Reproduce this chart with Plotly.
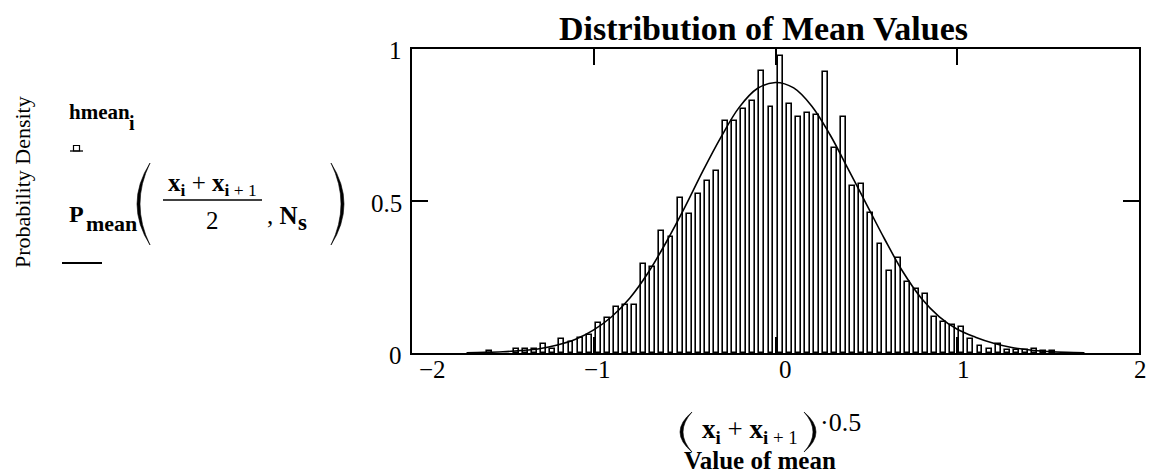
import plotly.graph_objects as go

# Histogram of sample means: bin centres and normalised heights
bin_centers = [-1.575, -1.425, -1.375, -1.325, -1.275, -1.225, -1.175, -1.125,
               -1.075, -1.025, -0.975, -0.925, -0.875, -0.825, -0.775, -0.725,
               -0.675, -0.625, -0.575, -0.525, -0.475, -0.425, -0.375, -0.325,
               -0.275, -0.225, -0.175, -0.125, -0.075, -0.025, 0.025, 0.075,
               0.125, 0.175, 0.225, 0.275, 0.325, 0.375, 0.425, 0.475,
               0.525, 0.575, 0.625, 0.675, 0.725, 0.775, 0.825, 0.875,
               0.925, 0.975, 1.025, 1.075, 1.125, 1.175, 1.225, 1.275,
               1.325, 1.375, 1.425, 1.475, 1.525]
hmean = [0.007, 0.012, 0.012, 0.012, 0.029, 0.012, 0.046, 0.037,
         0.048, 0.059, 0.100, 0.114, 0.152, 0.158, 0.158, 0.292,
         0.284, 0.402, 0.380, 0.509, 0.456, 0.522, 0.567, 0.600,
         0.764, 0.764, 0.803, 0.830, 0.929, 0.810, 0.977, 0.818,
         0.777, 0.790, 0.783, 0.923, 0.673, 0.777, 0.549, 0.555,
         0.462, 0.358, 0.271, 0.311, 0.232, 0.212, 0.193, 0.120,
         0.101, 0.093, 0.087, 0.047, 0.023, 0.014, 0.030, 0.010,
         0.010, 0.009, 0.012, 0.007, 0.007]

# Theoretical density of the mean
curve_x = [-1.7, -1.6, -1.5, -1.4, -1.3, -1.2, -1.1, -1.0, -0.9, -0.8, -0.7,
           -0.6, -0.5, -0.4, -0.3, -0.2, -0.1, 0.0, 0.1, 0.2, 0.3, 0.4, 0.5,
           0.6, 0.7, 0.8, 0.9, 1.0, 1.1, 1.2, 1.3, 1.4, 1.5, 1.6, 1.7]
p_mean = [0.001, 0.002, 0.004, 0.008, 0.014, 0.026, 0.045, 0.076, 0.120, 0.182,
          0.265, 0.366, 0.478, 0.598, 0.710, 0.808, 0.870, 0.890, 0.872, 0.812,
          0.718, 0.605, 0.490, 0.375, 0.268, 0.182, 0.120, 0.078, 0.052, 0.032,
          0.018, 0.010, 0.005, 0.002, 0.001]

x_ticks = [-2, -1, 0, 1, 2]
x_tick_text = ["\u22122", "\u22121", "0", "1", "2"]
x_tick_shift = [20, 4, 10, 6, 1]      # label offsets in px, as Mathcad places them
y_ticks = [0, 0.5, 1]
y_tick_text = ["0", "0.5", "1"]

W, H = 1156, 473
L, R, T, B = 412, 17, 49, 120
PW, PH = W - L - R, H - T - B
SERIF = "Liberation Serif, Times New Roman, serif"


def px(x):
    return (x - L) / PW


def py(y):
    return (H - B - y) / PH


fig = go.Figure()
fig.add_trace(go.Bar(
    x=bin_centers, y=hmean, width=0.027,
    marker=dict(color="white", line=dict(color="black", width=1.6)),
    showlegend=False, hoverinfo="skip"))
fig.add_trace(go.Scatter(
    x=curve_x, y=p_mean, mode="lines", line=dict(color="black", width=1.6, shape="spline"),
    showlegend=False, hoverinfo="skip"))

axis_common = dict(showline=True, linecolor="black", linewidth=2, mirror="ticks",
                   ticks="inside", ticklen=16, tickwidth=2, tickcolor="black",
                   showgrid=False, zeroline=False, showticklabels=False)
fig.update_xaxes(range=[-2, 2], tickvals=x_ticks, **axis_common)
fig.update_yaxes(range=[0, 1], tickvals=y_ticks, **axis_common)

ann = []


def text(x, y, s, size=22, xanchor="center", yanchor="middle", angle=0):
    ann.append(dict(x=px(x), y=py(y), xref="paper", yref="paper", text=s,
                    showarrow=False, xanchor=xanchor, yanchor=yanchor, textangle=angle,
                    font=dict(family=SERIF, size=size, color="black")))


# tick labels
for v, s, sh in zip(x_ticks, x_tick_text, x_tick_shift):
    text(L + (v + 2) / 4 * PW + sh, 369, s, size=25)
for v, s in zip(y_ticks, y_tick_text):
    text(404, H - B - v * PH + 2, s, size=25, xanchor="right")

# title and axis titles
text(763, 29, "<b>Distribution of Mean Values</b>", size=34)
text(760, 461, "<b>Value of mean</b>", size=25)
text(750, 431, "<b>x</b><sub><b>i</b></sub> + <b>x</b><sub><b>i</b> + 1</sub>", size=27)
text(818, 423, "\u00b70.5", size=26, xanchor="left")
text(22, 182, "Probability Density", size=22, angle=-90)

# trace labels on the left
text(67, 112, "<b>hmean</b>", size=21, xanchor="left")
text(127, 123, "<b>i</b>", size=20, xanchor="left")
text(67, 214, "<b>P</b>", size=24, xanchor="left")
text(84, 224, "<b>mean</b>", size=22, xanchor="left")
text(213, 184, "<b>x</b><sub><b>i</b></sub> + <b>x</b><sub><b>i</b> + 1</sub>", size=25)
text(213, 220, "2", size=25)
text(265, 215, ", <b>N</b>", size=25, xanchor="left")
text(296, 222, "<b>s</b>", size=23, xanchor="left")

fig.update_layout(annotations=ann)

shapes = []


def line(x0, y0, x1, y1, w=1.4):
    shapes.append(dict(type="line", xref="paper", yref="paper", x0=px(x0), y0=py(y0),
                       x1=px(x1), y1=py(y1), line=dict(color="black", width=w)))


def paren(xe, xm, yt, yb, thick=3.0):
    # crescent-shaped bracket from (xe, yt) to (xe, yb), bulging to xm
    ym = (yt + yb) / 2
    cx_out = 2 * xm - xe
    cx_in = cx_out + (thick if xm < xe else -thick) * 2
    d = (f"M {px(xe)},{py(yt)} Q {px(cx_out)},{py(ym)} {px(xe)},{py(yb)} "
         f"Q {px(cx_in)},{py(ym)} {px(xe)},{py(yt)} Z")
    shapes.append(dict(type="path", xref="paper", yref="paper", path=d,
                       fillcolor="black", line=dict(color="black", width=0.6)))


line(163, 200, 262, 200, 1.3)          # fraction bar
paren(150, 137, 163, 245)
paren(331, 344, 163, 245)
paren(692, 680, 412, 452)
paren(804, 816, 412, 452)
# legend glyphs
line(70, 151, 83, 151, 1.3)
shapes.append(dict(type="rect", xref="paper", yref="paper", x0=px(73.5), x1=px(79.5),
                   y0=py(151), y1=py(145.5), line=dict(color="black", width=1.2)))
line(62, 263, 102, 263, 1.8)
fig.update_layout(shapes=shapes)

fig.update_layout(width=W, height=H, margin=dict(l=L, r=R, t=T, b=B, pad=0),
                  paper_bgcolor="white", plot_bgcolor="white", bargap=0)
fig.write_html("out.html")
